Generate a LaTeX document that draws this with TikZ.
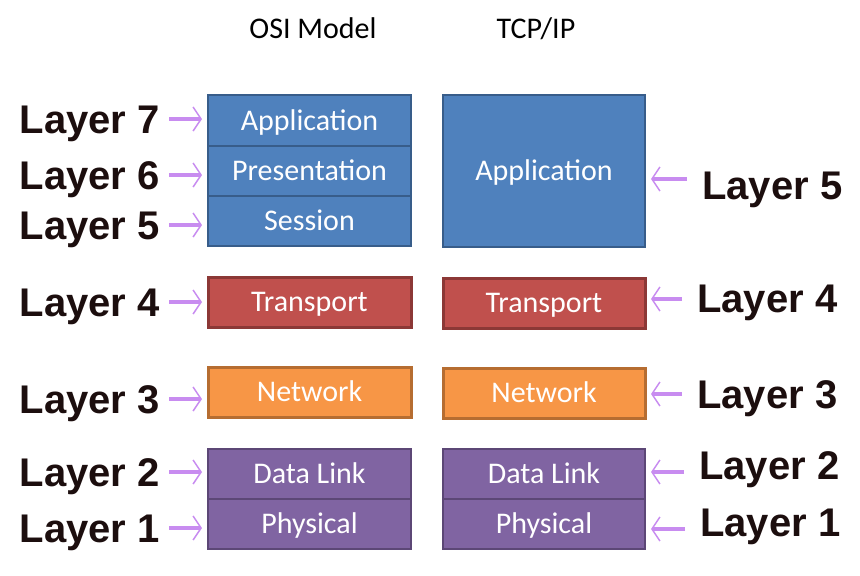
\documentclass[tikz,border=0pt]{standalone}
\usepackage{fontspec}
\setmainfont{Carlito}
\newfontfamily\layerfont{Liberation Sans}
\usetikzlibrary{positioning}
\usetikzlibrary{arrows.meta}

\definecolor{appblue}{RGB}{79,129,189}
\definecolor{appline}{RGB}{56,93,138}
\definecolor{tranred}{RGB}{192,80,77}
\definecolor{tranline}{RGB}{140,56,54}
\definecolor{netorange}{RGB}{247,150,70}
\definecolor{netline}{RGB}{182,109,49}
\definecolor{linkpurple}{RGB}{128,100,162}
\definecolor{linkline}{RGB}{92,71,118}
\definecolor{arrowviolet}{RGB}{200,140,240}
\definecolor{labelink}{RGB}{28,14,14}

\tikzset{
 layerbox/.style={draw, line width=2pt, inner sep=0pt, outer sep=0pt, text=white,
   minimum width=203pt, minimum height=50pt,
   font=\fontsize{30}{30}\selectfont, text height=19pt, text depth=0pt},
 appbox/.style={layerbox, fill=appblue, draw=appline},
 transbox/.style={layerbox, fill=tranred, draw=tranline, line width=3pt},
 netbox/.style={layerbox, fill=netorange, draw=netline, line width=3pt},
 linkbox/.style={layerbox, fill=linkpurple, draw=linkline},
 layerlbl/.style={inner sep=0pt, text=labelink,
   font=\layerfont\bfseries\fontsize{40}{40}\selectfont,
   text height=28.5pt, text depth=0pt},
 pointer/.style={arrowviolet, line width=3.5pt,
   -{Straight Barb[length=8pt,width=24pt,line width=1.5pt]}},
 title/.style={anchor=base, font=\fontsize{30}{30}\selectfont},
}

\begin{document}
\begin{tikzpicture}[x=1pt,y=-1pt]
\useasboundingbox (0,0) rectangle (860,576);

% column titles
\node[title] (osi) at (313,38) {OSI Model};
\node[title] (tcp) at (536,38) {TCP/IP};

% OSI stack
\node[appbox, minimum height=51pt] (oapp) at (309.5,120.5) {Application};
\node[appbox, below=0pt of oapp] (opres) {Presentation};
\node[appbox, below=0pt of opres] (osess) {Session};
\node[transbox] (otrans) at (309.5,302) {Transport};
\node[netbox] (onet) at (309.5,392) {Network};
\node[linkbox] (olink) at (309.5,473.5) {Data Link};
\node[linkbox, below=0pt of olink] (ophys) {Physical};

% TCP/IP stack
\node[appbox, minimum width=202pt, minimum height=152pt] (tapp) at (544,171) {Application};
\node[transbox, minimum width=202pt] (ttrans) at (544,303) {Transport};
\node[netbox, minimum width=202pt] (tnet) at (544,393) {Network};
\node[linkbox, minimum width=202pt] (tlink) at (544,474) {Data Link};
\node[linkbox, minimum width=202pt, below=0pt of tlink] (tphys) {Physical};

% OSI layer numbers
\node[layerlbl, anchor=east] (l7) at (160,119) {Layer 7};
\node[layerlbl, anchor=east] (l6) at (160,175) {Layer 6};
\node[layerlbl, anchor=east] (l5) at (160,225) {Layer 5};
\node[layerlbl, anchor=east] (l4) at (160,302) {Layer 4};
\node[layerlbl, anchor=east] (l3) at (160,399) {Layer 3};
\node[layerlbl, anchor=east] (l2) at (160,472) {Layer 2};
\node[layerlbl, anchor=east] (l1) at (160,528) {Layer 1};

\foreach \lbl/\stack in {l7/oapp, l6/opres, l5/osess, l4/otrans, l3/onet, l2/olink, l1/ophys}
  \draw[pointer, shorten <=9pt, shorten >=6pt] (\lbl.east) -- (\stack.west |- \lbl.east);

% TCP/IP layer numbers
\node[layerlbl, anchor=west] (r5) at (702,185) {Layer 5};
\node[layerlbl, anchor=west] (r4) at (697,298) {Layer 4};
\node[layerlbl, anchor=west] (r3) at (697,394) {Layer 3};
\node[layerlbl, anchor=west] (r2) at (699,465) {Layer 2};
\node[layerlbl, anchor=west] (r1) at (700,522) {Layer 1};

\foreach \lbl/\stack/\dy in {r5/tapp/6, r4/ttrans/-1, r3/tnet/0, r2/tlink/-7, r1/tphys/-7}
  \draw[pointer, shorten <=15pt, shorten >=6pt]
    ([yshift=\dy pt]\lbl.west) -- ([yshift=\dy pt]\stack.east |- \lbl.west);
\end{tikzpicture}
\end{document}
